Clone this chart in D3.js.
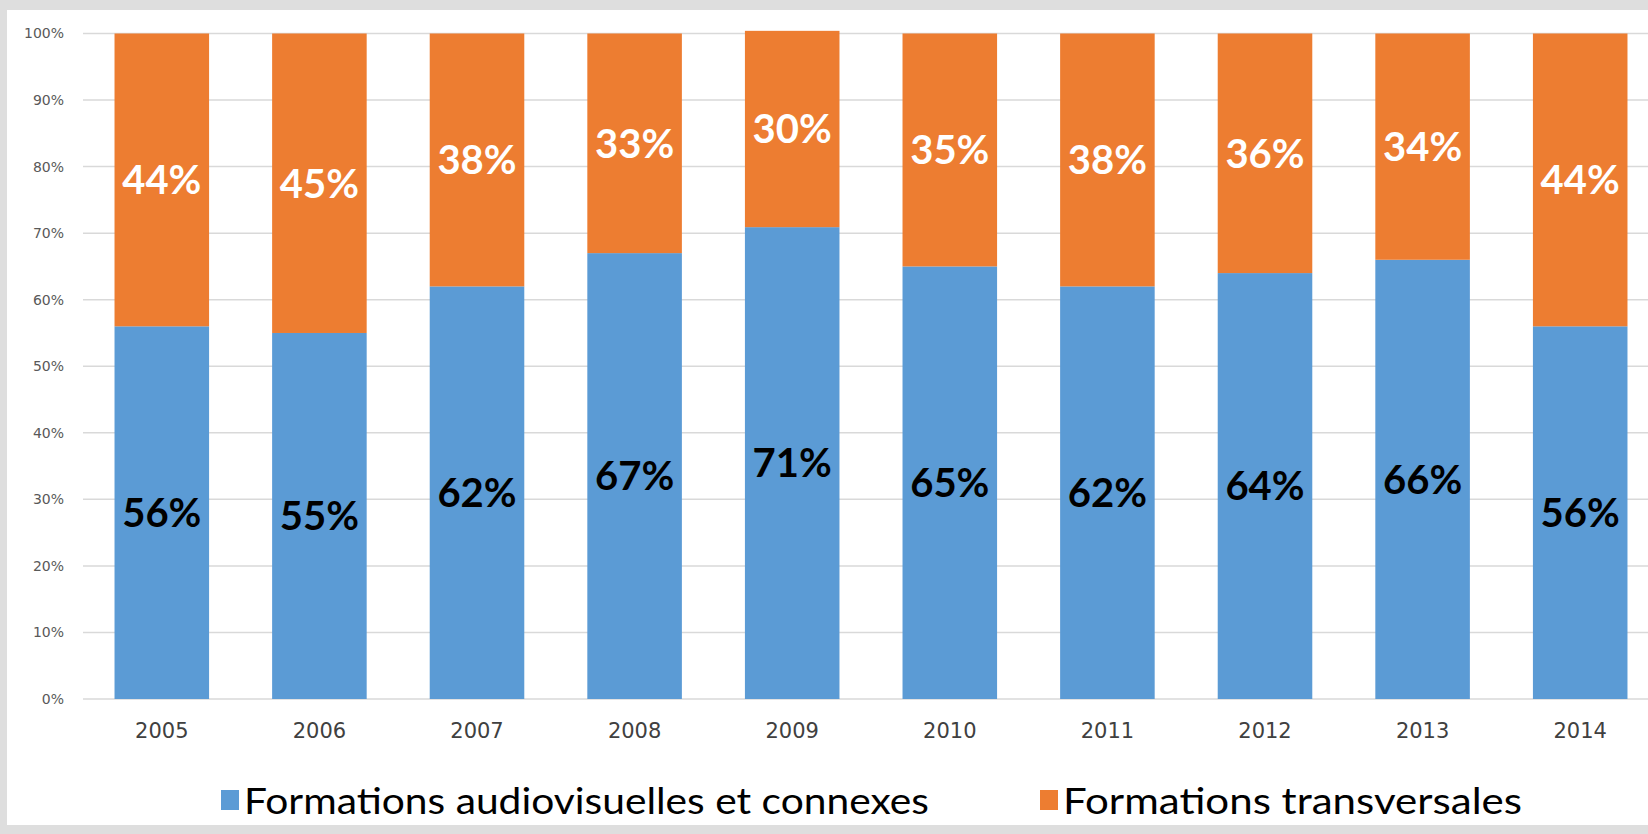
<!DOCTYPE html>
<html><head><meta charset="utf-8">
<script src="https://cdn.jsdelivr.net/npm/d3@7"></script>
<style>body{margin:0;background:#dedede;}svg{display:block;}</style>
</head><body>
<svg id="chart" width="1648" height="834"></svg>
<script>
const years = ["2005","2006","2007","2008","2009","2010","2011","2012","2013","2014"];
const audiovisuel = [56,55,62,67,70.9,65,62,64,66,56];
const transversal = [44,45,38,33,29.5,35,38,36,34,44];
const yTicks = [0,10,20,30,40,50,60,70,80,90,100];
const seriesNames = ["Formations audiovisuelles et connexes","Formations transversales"];
const colors = ["#5B9BD5","#ED7D31"];

const svg = d3.select("#chart");
svg.append("rect").attr("x",0).attr("y",0).attr("width",1648).attr("height",834).attr("fill","#dedede");
svg.append("rect").attr("x",7).attr("y",10).attr("width",1641).attr("height",815).attr("fill","#ffffff");

const y = d3.scaleLinear().domain([0,100]).range([699,33.5]);
const x = d3.scaleBand().domain(years).range([83,1659]).paddingInner(0.4).paddingOuter(0.2);
const fmt = d3.format(".0f");

// gridlines
svg.append("g").selectAll("line").data(yTicks).join("line")
  .attr("x1",83).attr("x2",1648)
  .attr("y1",d=>y(d)).attr("y2",d=>y(d))
  .attr("stroke","#d9d9d9").attr("stroke-width",1.5);

// y axis labels
const yAxis = d3.axisLeft(y).tickValues(yTicks).tickFormat(d=>d+"%").tickSize(0).tickPadding(0);
const yg = svg.append("g").attr("transform","translate(64,0)").call(yAxis);
yg.select(".domain").remove();
yg.selectAll("text").attr("font-family","DejaVu Sans").attr("font-size",14).attr("fill","#595959");

const data = years.map((yr,i)=>({year:yr,a:audiovisuel[i],t:transversal[i]}));
const stack = d3.stack().keys(["a","t"])(data);

const g = svg.append("g");
stack.forEach((layer,li)=>{
  const key = layer.key;
  g.append("g").selectAll("rect").data(layer).join("rect")
    .attr("x",d=>x(d.data.year)).attr("width",x.bandwidth())
    .attr("y",d=>y(d[1])).attr("height",d=>y(d[0])-y(d[1]))
    .attr("fill",colors[li]);
  g.append("g").selectAll("text").data(layer).join("text")
    .attr("x",d=>x(d.data.year)+x.bandwidth()/2)
    .attr("y",d=>(y(d[0])+y(d[1]))/2)
    .attr("dy","0.36em")
    .attr("text-anchor","middle")
    .attr("font-family","Lato").attr("font-weight","bold").attr("font-size",40)
    .attr("fill",li===0?"#000000":"#ffffff")
    .text(d=>fmt(d.data[key])+"%");
});

// x axis labels
const xAxis = d3.axisBottom(x).tickSize(0).tickPadding(0);
const xg = svg.append("g").attr("transform","translate(0,727)").call(xAxis);
xg.select(".domain").remove();
xg.selectAll("text").attr("font-family","DejaVu Sans").attr("font-size",21).attr("fill","#404040").attr("dy","0.5em");

// legend
const legendX = [221,1040];
const legendW = [685,459];
const lg = svg.append("g");
seriesNames.forEach((n,i)=>{
  lg.append("rect").attr("x",legendX[i]).attr("y",790).attr("width",18).attr("height",20).attr("fill",colors[i]);
  lg.append("text").attr("x",legendX[i]+23).attr("y",814)
    .attr("font-family","Lato").attr("font-size",37).attr("fill","#000")
    .attr("textLength",legendW[i]).attr("lengthAdjust","spacingAndGlyphs")
    .text(n);
});
</script>
</body></html>
